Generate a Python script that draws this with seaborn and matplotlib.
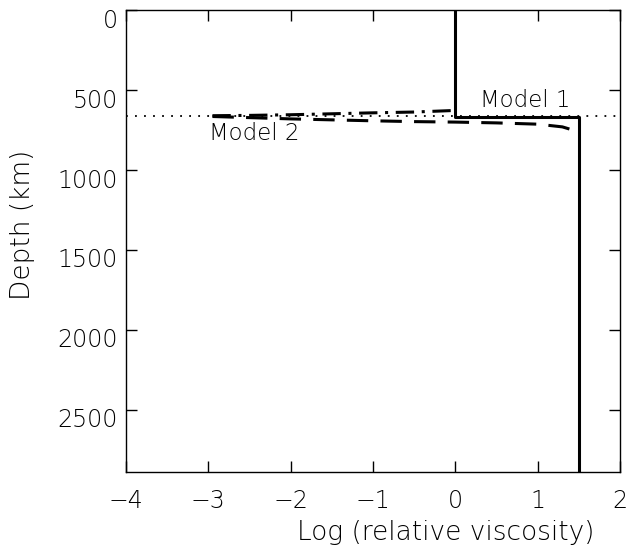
import pandas as pd
import matplotlib.pyplot as plt
import matplotlib.transforms as mtransforms
import seaborn as sns

# Model 1: step profile
m1_visc = [0.0, 0.0, 1.5, 1.5]
m1_depth = [0, 670, 670, 2891]

# Model 2: upper (dash-dot) branch
m2a_visc = [-2.95, -2.5, -2.0, -1.5, -1.0, -0.5, -0.05]
m2a_depth = [660, 658, 654, 648, 642, 637, 628]

# Model 2: lower (dashed) branch
m2b_visc = [-2.95, -2.5, -2.0, -1.5, -1.0, -0.5, 0.0, 0.5, 1.0, 1.3, 1.48]
m2b_depth = [665, 672, 680, 686, 692, 697, 700, 705, 713, 730, 758]

ref_depth = 660

sns.set_style('ticks')
plt.rcParams['font.family'] = ['DejaVu Sans']
plt.rcParams['font.weight'] = 'light'
plt.rcParams['axes.labelweight'] = 'light'
for k in ['text.color', 'axes.labelcolor', 'xtick.color', 'ytick.color', 'axes.edgecolor']:
    plt.rcParams[k] = 'black'

fig = plt.figure(figsize=(6.26, 5.51), dpi=100)
ax = fig.add_axes([0.2013, 0.1434, 0.7891, 0.8379])

df1 = pd.DataFrame({'visc': m1_visc, 'depth': m1_depth})
df2a = pd.DataFrame({'visc': m2a_visc, 'depth': m2a_depth})
df2b = pd.DataFrame({'visc': m2b_visc, 'depth': m2b_depth})

sns.lineplot(data=df1, x='visc', y='depth', sort=False, estimator=None,
             color='black', lw=2.2, ax=ax)
sns.lineplot(data=df2a, x='visc', y='depth', sort=False, estimator=None,
             color='black', lw=2.2, ax=ax, linestyle=(0, (6, 2.5, 1, 2.5)))
sns.lineplot(data=df2b, x='visc', y='depth', sort=False, estimator=None,
             color='black', lw=2.2, ax=ax, linestyle=(0, (7, 4)))
ax.axhline(ref_depth, color='black', lw=1.3, linestyle=(0, (1, 4)))

ax.text(0.3, 565, 'Model 1', fontsize=16.5, va='center', ha='left')
ax.text(-2.99, 770, 'Model 2', fontsize=16.5, va='center', ha='left')

ax.set_xlim(-4, 2)
ax.set_ylim(2891, 0)
ax.set_xticks(range(-4, 3))
ax.set_xticklabels([str(v).replace('-', '\u2212') for v in range(-4, 3)])
ax.set_yticks(range(0, 3000, 500))
ax.set_xlabel('Log (relative viscosity)', fontsize=19, fontweight='light')
ax.set_ylabel('Depth (km)', fontsize=19, fontweight='light')
ax.xaxis.set_label_coords(0.648, -0.104)
ax.yaxis.set_label_coords(-0.184, 0.535)
ax.tick_params(direction='in', length=8, width=1, top=True, right=True,
               labelsize=17)
ax.tick_params(axis='x', pad=12)
ax.tick_params(axis='y', pad=6)
shift = mtransforms.ScaledTranslation(0, -0.08, fig.dpi_scale_trans)
for lab in ax.get_yticklabels():
    lab.set_transform(lab.get_transform() + shift)
for s in ax.spines.values():
    s.set_linewidth(1)

plt.savefig('out.png', dpi=100)
